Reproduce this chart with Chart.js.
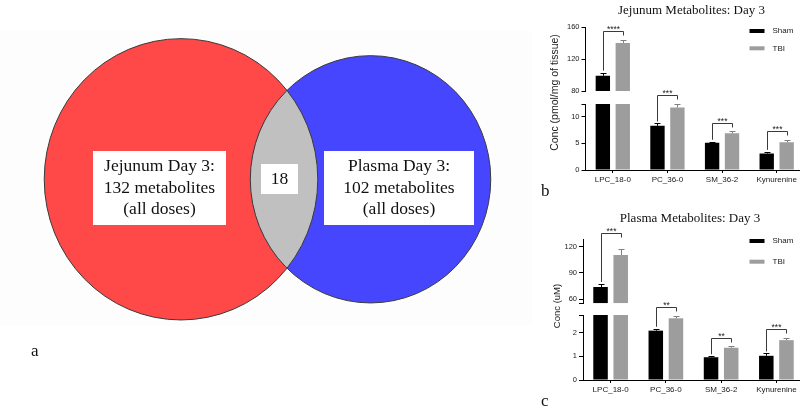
<!DOCTYPE html>
<html>
<head>
<meta charset="utf-8">
<script src="https://cdn.jsdelivr.net/npm/chart.js@4.4.1/dist/chart.umd.min.js"></script>
<style>
  html, body { margin:0; padding:0; background:#fff; width:800px; height:407px; overflow:hidden; }
  canvas { position:absolute; display:block; }
</style>
</head>
<body>
<canvas id="venn" width="540" height="407" style="left:0;top:0"></canvas>
<canvas id="jej" width="270" height="200" style="left:540px;top:0"></canvas>
<canvas id="pla" width="270" height="207" style="left:540px;top:200px"></canvas>
<script>
// ================= DATA =================
const vennSets = ['Jejunum Day 3', 'Plasma Day 3'];
const vennCounts = [132, 102];
const vennOverlap = 18;
const vennNote = '(all doses)';

const categories = ['LPC_18-0', 'PC_36-0', 'SM_36-2', 'Kynurenine'];
const seriesNames = ['Sham', 'TBI'];

const jejSham    = [99, 8.3, 5.1, 3.1];
const jejShamErr = [4, 0.45, 0.2, 0.3];
const jejTbi     = [140, 11.75, 6.9, 5.2];
const jejTbiErr  = [4, 0.6, 0.35, 0.4];
const jejSig     = ['****', '***', '***', '***'];
const jejHighTicks = [80, 120, 160];
const jejLowTicks  = [0, 5, 10];

const plaSham    = [74, 2.08, 0.96, 1.02];
const plaShamErr = [3.5, 0.08, 0.04, 0.1];
const plaTbi     = [110.5, 2.6, 1.36, 1.68];
const plaTbiErr  = [6.5, 0.11, 0.08, 0.11];
const plaSig     = ['***', '**', '**', '***'];
const plaHighTicks = [60, 90, 120];
const plaLowTicks  = [0, 1, 2];

// ================= STYLE =================
const RED = '#ff4848', BLUE = '#4646ff', LENS = '#c0c0c0';
const BAR_BLACK = '#000000', BAR_GRAY = '#9d9d9d';
const SANS = '"Liberation Sans", Arial, sans-serif';
const SERIF = '"Liberation Serif", "Times New Roman", serif';

// ================= VENN =================
function lensArea(d, r1, r2) {
  if (d >= r1 + r2) return 0;
  if (d <= Math.abs(r1 - r2)) return Math.PI * Math.min(r1, r2) ** 2;
  const a1 = Math.acos((d * d + r1 * r1 - r2 * r2) / (2 * d * r1));
  const a2 = Math.acos((d * d + r2 * r2 - r1 * r1) / (2 * d * r2));
  return r1 * r1 * a1 + r2 * r2 * a2 -
    0.5 * Math.sqrt((-d + r1 + r2) * (d + r1 - r2) * (d - r1 + r2) * (d + r1 + r2));
}
function solveDistance(r1, r2, area) {
  let lo = Math.abs(r1 - r2), hi = r1 + r2;
  for (let k = 0; k < 80; k++) {
    const mid = (lo + hi) / 2;
    if (lensArea(mid, r1, r2) > area) lo = mid; else hi = mid;
  }
  return (lo + hi) / 2;
}
const vennR = vennCounts.map(c => Math.sqrt(c / Math.PI));
const vennD = solveDistance(vennR[0], vennR[1], vennOverlap);

// layout of the venn panel (pixels per unit on each axis, position of first centre)
const VENN_PPU_X = 21.1, VENN_PPU_Y = 21.7, VENN_CX = 181, VENN_CY = 179.3, VENN_W = 540, VENN_H = 407;

const vennPlugin = {
  id: 'vennDecor',
  beforeDatasetsDraw(chart) {
    const ctx = chart.ctx;
    ctx.save();
    ctx.fillStyle = '#fdfdfd';
    ctx.fillRect(0, 31, 532, 295);
    ctx.restore();
  },
  afterDatasetsDraw(chart) {
    const ctx = chart.ctx;
    const sx = chart.scales.x, sy = chart.scales.y;
    const pxX = sx.getPixelForValue(1) - sx.getPixelForValue(0);
    const pxY = sy.getPixelForValue(0) - sy.getPixelForValue(1);
    const pts = chart.getDatasetMeta(0).data;
    const c = pts.map((p, i) => ({ x: p.x, y: p.y, rx: vennR[i] * pxX, ry: vennR[i] * pxY }));
    const path = (k) => { ctx.beginPath(); ctx.ellipse(k.x, k.y, k.rx, k.ry, 0, 0, Math.PI * 2); };
    const fills = chart.data.datasets[0].fillColors;
    ctx.save();
    c.forEach((k, i) => { path(k); ctx.fillStyle = fills[i]; ctx.fill(); });
    // lens
    ctx.save();
    path(c[0]); ctx.clip();
    path(c[1]); ctx.fillStyle = LENS; ctx.fill();
    ctx.restore();
    // outlines
    ctx.strokeStyle = '#3a3a3a'; ctx.lineWidth = 1;
    c.forEach(k => { path(k); ctx.stroke(); });
    ctx.restore();
    // label boxes
    const lensCx = ((c[1].x - c[1].rx) + (c[0].x + c[0].rx)) / 2;
    const boxes = [
      { cx: 159.5, cy: 188, w: 133, h: 74, lines: [vennSets[0] + ':', vennCounts[0] + ' metabolites', vennNote] },
      { cx: 399, cy: 188, w: 150, h: 74, lines: [vennSets[1] + ':', vennCounts[1] + ' metabolites', vennNote] },
      { cx: lensCx - 4.5, cy: 179, w: 37, h: 30, lines: [String(vennOverlap)] }
    ];
    ctx.save();
    ctx.font = '17.5px ' + SERIF;
    ctx.textAlign = 'center';
    ctx.textBaseline = 'middle';
    boxes.forEach(b => {
      ctx.fillStyle = '#ffffff';
      ctx.fillRect(Math.round(b.cx - b.w / 2), Math.round(b.cy - b.h / 2), b.w, b.h);
      ctx.fillStyle = '#111111';
      const n = b.lines.length;
      b.lines.forEach((t, i) => ctx.fillText(t, b.cx, b.cy + (i - (n - 1) / 2) * 21.6));
    });
    // panel letter
    ctx.textAlign = 'left';
    ctx.textBaseline = 'alphabetic';
    ctx.font = '17px ' + SERIF;
    ctx.fillText('a', 31, 356);
    ctx.restore();
  }
};

new Chart(document.getElementById('venn'), {
  type: 'scatter',
  data: {
    datasets: [{
      label: 'set centres',
      data: [{ x: 0, y: 0 }, { x: vennD, y: 0 }],
      fillColors: [RED, BLUE],
      pointRadius: 0,
      clip: false
    }]
  },
  options: {
    responsive: false, animation: false, devicePixelRatio: 1,
    layout: { padding: 0, autoPadding: false },
    events: [],
    plugins: { legend: { display: false }, tooltip: { enabled: false } },
    scales: {
      x: { type: 'linear', display: false, min: -VENN_CX / VENN_PPU_X, max: (VENN_W - VENN_CX) / VENN_PPU_X },
      y: { type: 'linear', display: false, min: -(VENN_H - VENN_CY) / VENN_PPU_Y, max: VENN_CY / VENN_PPU_Y }
    }
  },
  plugins: [vennPlugin]
});

// ================= BROKEN-AXIS BAR CHARTS =================
function makeBarChart(canvasId, o) {
  const lowData = arr => arr.map(v => Math.min(v, o.lowMax));
  const highData = arr => arr.map(v => (v > o.highMin ? [o.highMin, v] : null));
  const tickFont = { family: SANS, size: 7.5 };

  const yAxis = (min, max, labelled, extra, stackWeight, weight) => ({
    type: 'linear', position: 'left', stack: 'ybroken', stackWeight, weight,
    stacked: false, min, max,
    grid: { display: true, drawOnChartArea: false, drawTicks: true, tickLength: 4, color: '#000', lineWidth: 1 },
    border: { display: true, color: '#000', width: 1 },
    ticks: {
      font: tickFont, color: '#1a1a1a', padding: 2,
      callback: (v) => (labelled.some(t => Math.abs(t - v) < 1e-9) ? String(v) : '')
    },
    afterBuildTicks: (s) => {
      const vals = Array.from(new Set(labelled.concat(extra))).sort((a, b) => a - b);
      s.ticks = vals.map(v => ({ value: v }));
      s.min = min; s.max = max;
    },
    afterFit: (s) => { s.width = o.axisWidth; }
  });

  const series = [
    { vals: o.sham, errs: o.shamErr, color: BAR_BLACK },
    { vals: o.tbi, errs: o.tbiErr, color: BAR_GRAY }
  ];

  const decor = {
    id: 'barDecor',
    afterDatasetsDraw(chart) {
      const ctx = chart.ctx;
      const topInfo = (s, i) => {
        const v = series[s].vals[i], e = series[s].errs[i];
        const high = v > o.lowMax;
        const el = chart.getDatasetMeta(high ? s + 2 : s).data[i];
        const sc = chart.scales[high ? 'yHigh' : 'yLow'];
        return { x: el.x, yv: sc.getPixelForValue(v), ye: sc.getPixelForValue(v + e) };
      };
      ctx.save();
      ctx.lineWidth = 1;
      // error bars
      for (let s = 0; s < 2; s++) {
        for (let i = 0; i < categories.length; i++) {
          const t = topInfo(s, i);
          const x = Math.round(t.x) + 0.5, ye = Math.round(t.ye) + 0.5;
          ctx.strokeStyle = s === 0 ? '#000' : '#808080';
          ctx.beginPath();
          ctx.moveTo(x, t.yv); ctx.lineTo(x, ye);
          ctx.moveTo(x - 3, ye); ctx.lineTo(x + 3, ye);
          ctx.stroke();
        }
      }
      // significance brackets
      ctx.font = '8.5px ' + SANS;
      ctx.textAlign = 'center';
      ctx.textBaseline = 'alphabetic';
      for (let i = 0; i < categories.length; i++) {
        const a = topInfo(0, i), b = topInfo(1, i);
        const yb = Math.round(Math.min(a.ye, b.ye) - o.bracketGap[i]) + 0.5;
        const xa = Math.round(a.x) + 0.5, xb = Math.round(b.x) + 0.5;
        ctx.strokeStyle = '#3a3a3a';
        ctx.beginPath();
        ctx.moveTo(xa, a.ye - 2); ctx.lineTo(xa, yb); ctx.lineTo(xb, yb); ctx.lineTo(xb, yb + 4);
        ctx.stroke();
        ctx.fillStyle = '#222';
        ctx.fillText(o.sig[i], (xa + xb) / 2, yb + 0.5);
      }
      // legend
      ctx.textAlign = 'left';
      ctx.textBaseline = 'middle';
      ctx.font = '8px ' + SANS;
      [0, 1].forEach(k => {
        const ds = chart.data.datasets[k];
        const y = o.legendY[k];
        ctx.fillStyle = ds.backgroundColor;
        ctx.fillRect(o.legendX, y - 2, 15, 4);
        ctx.fillStyle = '#1a1a1a';
        ctx.fillText(ds.label, o.legendX + 23, y);
      });
      // title
      ctx.textAlign = 'center';
      ctx.fillStyle = '#111';
      ctx.font = '13px ' + SERIF;
      ctx.fillText(o.title, o.titleX, o.titleY);
      // y axis title
      ctx.save();
      ctx.translate(o.yTitleX, o.yTitleY);
      ctx.rotate(-Math.PI / 2);
      ctx.font = o.yTitleSize + 'px ' + SANS;
      ctx.fillStyle = '#1a1a1a';
      ctx.fillText(o.yTitle, 0, 0);
      ctx.restore();
      // panel letter
      ctx.textAlign = 'left';
      ctx.textBaseline = 'alphabetic';
      ctx.font = '17px ' + SERIF;
      ctx.fillStyle = '#111';
      ctx.fillText(o.letter, o.letterX, o.letterY);
      ctx.restore();
    }
  };

  return new Chart(document.getElementById(canvasId), {
    type: 'bar',
    data: {
      labels: categories,
      datasets: [
        { label: seriesNames[0], data: lowData(o.sham), backgroundColor: BAR_BLACK, yAxisID: 'yLow', stack: 'sham' },
        { label: seriesNames[1], data: lowData(o.tbi), backgroundColor: BAR_GRAY, yAxisID: 'yLow', stack: 'tbi' },
        { label: seriesNames[0], data: highData(o.sham), backgroundColor: BAR_BLACK, yAxisID: 'yHigh', stack: 'sham' },
        { label: seriesNames[1], data: highData(o.tbi), backgroundColor: BAR_GRAY, yAxisID: 'yHigh', stack: 'tbi' }
      ]
    },
    options: {
      responsive: false, animation: false, devicePixelRatio: 1,
      events: [],
      categoryPercentage: 0.73, barPercentage: 0.72,
      layout: { padding: { top: o.padTop, right: o.padRight, left: 0, bottom: 0 } },
      plugins: { legend: { display: false }, tooltip: { enabled: false }, title: { display: false } },
      scales: {
        x: {
          type: 'category', offset: true,
          grid: { display: true, offset: false, drawOnChartArea: false, drawTicks: true, tickLength: 3, color: '#000' },
          border: { display: true, color: '#000', width: 1 },
          ticks: { font: { family: SANS, size: 8 }, color: '#1a1a1a', padding: 2, maxRotation: 0, minRotation: 0, autoSkip: false },
          afterFit: (s) => { s.height = o.xHeight; }
        },
        yHigh: yAxis(o.highMin, o.highMax, o.highTicks, o.highExtra, o.wHigh, 3),
        yGap: {
          type: 'linear', position: 'left', stack: 'ybroken', stackWeight: o.wGap, weight: 2,
          display: false, min: 0, max: 1,
          afterFit: (s) => { s.width = o.axisWidth; }
        },
        yLow: yAxis(0, o.lowMax, o.lowTicks, o.lowExtra, o.wLow, 1)
      }
    },
    plugins: [decor]
  });
}

makeBarChart('jej', {
  sham: jejSham, shamErr: jejShamErr, tbi: jejTbi, tbiErr: jejTbiErr, sig: jejSig,
  highTicks: jejHighTicks, lowTicks: jejLowTicks,
  highMin: 80, highMax: 160, lowMax: 12.4,
  highExtra: [80], lowExtra: [12.4],
  wHigh: 64, wGap: 13, wLow: 66,
  axisWidth: 45.5, xHeight: 30, padTop: 27, padRight: 6,
  bracketGap: [9, 9, 8, 9],
  legendX: 209.5, legendY: [31, 48.3],
  title: 'Jejunum Metabolites: Day 3', titleX: 151.5, titleY: 11,
  yTitle: 'Conc (pmol/mg of tissue)', yTitleX: 15.5, yTitleY: 92.5, yTitleSize: 10.5,
  letter: 'b', letterX: 1, letterY: 196
});

makeBarChart('pla', {
  sham: plaSham, shamErr: plaShamErr, tbi: plaTbi, tbiErr: plaTbiErr, sig: plaSig,
  highTicks: plaHighTicks, lowTicks: plaLowTicks,
  highMin: 55.4, highMax: 128.8, lowMax: 2.74,
  highExtra: [55.4], lowExtra: [2.74],
  wHigh: 64.3, wGap: 11.7, wLow: 65,
  axisWidth: 43, xHeight: 27, padTop: 39, padRight: 6,
  bracketGap: [16, 9, 8, 9],
  legendX: 209.5, legendY: [41, 61.7],
  title: 'Plasma Metabolites: Day 3', titleX: 150, titleY: 19,
  yTitle: 'Conc (uM)', yTitleX: 17, yTitleY: 106, yTitleSize: 9.5,
  letter: 'c', letterX: 1, letterY: 206
});
</script>
</body>
</html>
